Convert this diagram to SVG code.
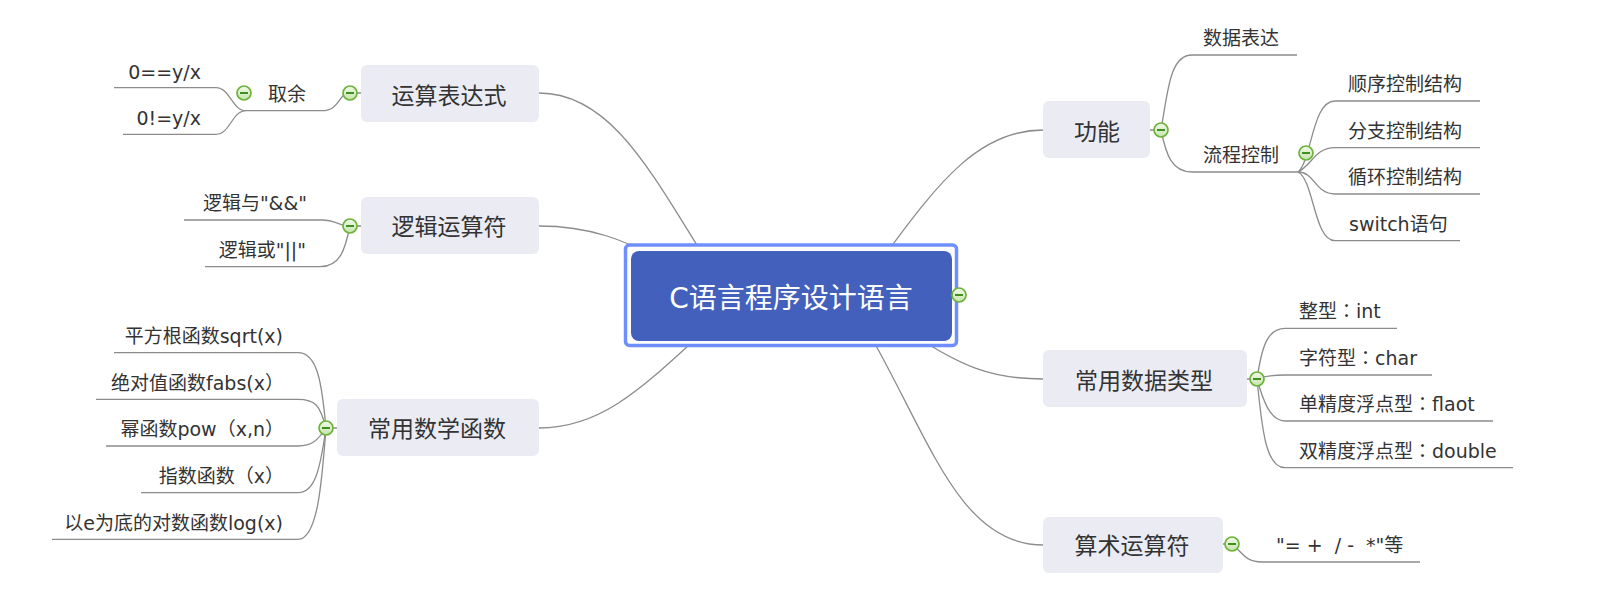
<svg xmlns="http://www.w3.org/2000/svg" xmlns:xlink="http://www.w3.org/1999/xlink" width="1600" height="613" viewBox="0 0 1600 613">
<style>
.bg{fill:#ffffff}
.conn path{fill:none;stroke:#8c8c8c;stroke-width:1.3}
.box{fill:#EBECF3}
.main{font-family:"DejaVu Sans","Noto Sans CJK SC",sans-serif;font-size:23px;fill:#333333;text-anchor:middle}
.sub{font-family:"DejaVu Sans","Noto Sans CJK SC",sans-serif;font-size:19px;fill:#333333}
.end{text-anchor:end}
.root{font-family:"DejaVu Sans","Noto Sans CJK SC",sans-serif;font-size:28px;fill:#ffffff;text-anchor:middle}
.pre{white-space:pre}
.p{font-family:"Noto Sans CJK KR","Noto Sans CJK SC",sans-serif}
</style>
<defs>
<linearGradient id="btnFill" x1="0" y1="0" x2="0" y2="1">
<stop offset="0" stop-color="#F2FAEB"/>
<stop offset="1" stop-color="#C6E4AC"/>
</linearGradient>
<g id="btn">
<circle cx="0" cy="0" r="7" fill="url(#btnFill)" stroke="#6DB33B" stroke-width="1.7"/>
<line x1="-4" y1="0" x2="4" y2="0" stroke="#3F8F22" stroke-width="2"/>
</g>
</defs>
<rect class="bg" x="0" y="0" width="1600" height="613"/>

<g id="connectors" class="conn">
<path d="M539,93 C610,93 650,170 705,258"/>
<path d="M539,226 C590,226 625,240 665,262"/>
<path d="M539,428 C600,428 640,390 700,335"/>
<path d="M1043,130 C980,130 940,180 885,255"/>
<path d="M1043,379 C990,379 960,365 915,336"/>
<path d="M1043,545 C960,545 930,440 870,335"/>

<path d="M361,93 L350,93 C338,93 340,110.7 322,110.7 L246,110.7"/>
<path d="M246,110.7 C232,110.7 230,87.7 216,87.7 L114,87.7"/>
<path d="M246,110.7 C232,110.7 230,134.3 216,134.3 L123,134.3"/>

<path d="M361,226 L350,226 C340,226 335,220 322,220 L184,220"/>
<path d="M350,226 C345,250 340,266.7 320,266.7 L205,266.7"/>

<path d="M337,428 L326,428 C322,385 318,352.7 298,352.7 L114,352.7"/>
<path d="M326,428 C320,405 315,399.3 298,399.3 L96,399.3"/>
<path d="M326,428 C318,440 312,446 298,446 L106,446"/>
<path d="M326,428 C320,470 315,492.7 298,492.7 L141,492.7"/>
<path d="M326,428 C322,480 318,539.3 298,539.3 L52,539.3"/>

<path d="M1150,130 L1161,130 C1168,90 1170,55 1192,55 L1297,55"/>
<path d="M1161,130 C1166,155 1172,172 1192,172 L1298,172"/>
<path d="M1298,172 C1312,160 1312,101 1335,101 L1480,101"/>
<path d="M1298,172 C1312,165 1315,147.7 1335,147.7 L1480,147.7"/>
<path d="M1298,172 C1315,172 1315,194 1335,194 L1480,194"/>
<path d="M1298,172 C1314,180 1314,240.7 1335,240.7 L1460,240.7"/>

<path d="M1247,379 L1257,379 C1262,345 1268,328.3 1285,328.3 L1397,328.3"/>
<path d="M1257,379 C1265,376 1272,375 1285,375 L1432,375"/>
<path d="M1257,379 C1263,400 1270,421 1285,421 L1493,421"/>
<path d="M1257,379 C1262,430 1266,467.7 1285,467.7 L1513,467.7"/>

<path d="M1223,544 L1232,544 C1242,552 1245,562 1262,562 L1420,562"/>
</g>

<g id="root">
<rect x="625.5" y="245" width="331" height="100.5" rx="4" fill="#ffffff" stroke="#6F8EFF" stroke-width="3.5"/>
<rect x="631" y="251" width="321" height="90" rx="8" fill="#4361BC"/>
<text class="root" x="791" y="307.5">C语言程序设计语言</text>
<use xlink:href="#btn" x="959" y="295"/>
</g>

<g id="node-yunsuan">
<rect class="box" x="361" y="65" width="178" height="57" rx="6"/>
<text class="main" x="449" y="103.5">运算表达式</text>
<use xlink:href="#btn" x="350" y="93"/>
</g>
<g id="node-quyu">
<text class="sub end" x="306" y="101">取余</text>
<use xlink:href="#btn" x="244" y="93"/>
</g>
<g id="node-eq">
<text class="sub end" x="201" y="78.5">0==y/x</text>
</g>
<g id="node-neq">
<text class="sub end" x="201" y="124.5">0!=y/x</text>
</g>

<g id="node-luoji">
<rect class="box" x="361" y="197" width="178" height="57" rx="6"/>
<text class="main" x="449" y="235">逻辑运算符</text>
<use xlink:href="#btn" x="350" y="226"/>
</g>
<g id="node-and">
<text class="sub end" x="307" y="210">逻辑与"&amp;&amp;"</text>
</g>
<g id="node-or">
<text class="sub end" x="306" y="257">逻辑或"||"</text>
</g>

<g id="node-math">
<rect class="box" x="337" y="399" width="202" height="57" rx="6"/>
<text class="main" x="437" y="437">常用数学函数</text>
<use xlink:href="#btn" x="326" y="428"/>
</g>
<g id="node-sqrt"><text class="sub end" x="283" y="343">平方根函数sqrt(x)</text></g>
<g id="node-fabs"><text class="sub end" x="284" y="389.5">绝对值函数fabs(x<tspan class="p">）</tspan></text></g>
<g id="node-pow"><text class="sub end" x="284" y="436">幂函数pow<tspan class="p">（</tspan>x,n<tspan class="p">）</tspan></text></g>
<g id="node-exp"><text class="sub end" x="284" y="483">指数函数<tspan class="p">（</tspan>x<tspan class="p">）</tspan></text></g>
<g id="node-log"><text class="sub end" x="283" y="529.5">以e为底的对数函数log(x)</text></g>

<g id="node-gongneng">
<rect class="box" x="1043" y="101" width="107" height="57" rx="6"/>
<text class="main" x="1097" y="140">功能</text>
<use xlink:href="#btn" x="1161" y="130"/>
</g>
<g id="node-shuju"><text class="sub" x="1203" y="45">数据表达</text></g>
<g id="node-liucheng">
<text class="sub" x="1203" y="162">流程控制</text>
<use xlink:href="#btn" x="1306" y="153"/>
</g>
<g id="node-shunxu"><text class="sub" x="1348" y="91">顺序控制结构</text></g>
<g id="node-fenzhi"><text class="sub" x="1348" y="138">分支控制结构</text></g>
<g id="node-xunhuan"><text class="sub" x="1348" y="184">循环控制结构</text></g>
<g id="node-switch"><text class="sub" x="1349" y="231">switch语句</text></g>

<g id="node-types">
<rect class="box" x="1043" y="350" width="204" height="57" rx="6"/>
<text class="main" x="1144" y="388.5">常用数据类型</text>
<use xlink:href="#btn" x="1257" y="379"/>
</g>
<g id="node-int"><text class="sub" x="1299" y="318">整型<tspan class="p">：</tspan>int</text></g>
<g id="node-char"><text class="sub" x="1299" y="365">字符型<tspan class="p">：</tspan>char</text></g>
<g id="node-float"><text class="sub" x="1299" y="411">单精度浮点型<tspan class="p">：</tspan>flaot</text></g>
<g id="node-double"><text class="sub" x="1299" y="458">双精度浮点型<tspan class="p">：</tspan>double</text></g>

<g id="node-suanshu">
<rect class="box" x="1043" y="517" width="180" height="56" rx="6"/>
<text class="main" x="1132" y="554">算术运算符</text>
<use xlink:href="#btn" x="1232" y="544"/>
</g>
<g id="node-ops"><text class="sub pre" x="1276" y="552" xml:space="preserve">"= +  / -  *"等</text></g>
</svg>
